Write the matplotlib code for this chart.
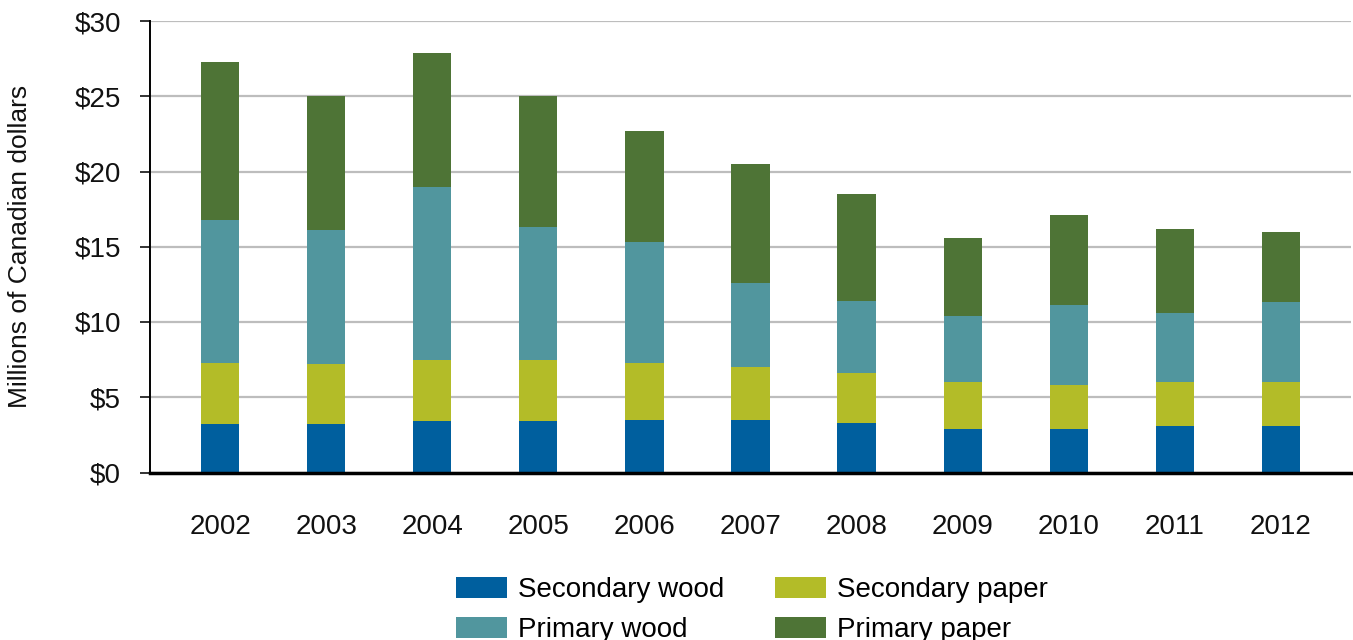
import numpy as np
import matplotlib
matplotlib.use('Agg')
import matplotlib.pyplot as plt

plt.rcParams['font.family'] = ['Liberation Sans', 'DejaVu Sans']

# Annual values, millions of Canadian dollars
years = ['2002', '2003', '2004', '2005', '2006', '2007', '2008', '2009', '2010', '2011', '2012']
secondary_wood = [3.2, 3.2, 3.4, 3.4, 3.5, 3.5, 3.3, 2.9, 2.9, 3.1, 3.1]
secondary_paper = [4.1, 4.0, 4.1, 4.1, 3.8, 3.5, 3.3, 3.1, 2.9, 2.9, 2.9]
primary_wood = [9.5, 8.9, 11.5, 8.8, 8.0, 5.6, 4.8, 4.4, 5.3, 4.6, 5.3]
primary_paper = [10.5, 8.9, 8.9, 8.7, 7.4, 7.9, 7.1, 5.2, 6.0, 5.6, 4.7]
y_ticks = [0, 5, 10, 15, 20, 25, 30]

colors = {
    'Secondary wood': '#005f9e',
    'Secondary paper': '#b3bc28',
    'Primary wood': '#51969e',
    'Primary paper': '#4e7436',
}

fig = plt.figure(figsize=(13.53, 6.4), dpi=100)
ax = fig.add_axes([150 / 1353, 1 - 472.5 / 640, 1201 / 1353, 451.5 / 640])

x = np.arange(len(years))
width = 0.36
series = [
    ('Secondary wood', secondary_wood),
    ('Secondary paper', secondary_paper),
    ('Primary wood', primary_wood),
    ('Primary paper', primary_paper),
]
bottom = np.zeros(len(years))
bars = {}
for name, vals in series:
    vals = np.array(vals)
    bars[name] = ax.bar(x, vals, width, bottom=bottom, color=colors[name], label=name, zorder=3)
    bottom += vals

ax.set_xlim(-0.66, len(years) - 1 + 0.66)
ax.set_ylim(0, 30)
ax.set_yticks(y_ticks)
ax.set_yticklabels(['$%d' % v for v in y_ticks])
ax.set_xticks(x)
ax.set_xticklabels(years)

ax.yaxis.grid(True, color='#bdbdbd', linewidth=1.6, zorder=0)
ax.set_axisbelow(True)
for side in ['top', 'right']:
    ax.spines[side].set_visible(False)
ax.spines['left'].set_linewidth(1.4)
ax.spines['bottom'].set_linewidth(2.5)
ax.spines['bottom'].set_zorder(4)

ax.tick_params(axis='y', length=7, width=1.2, pad=14, labelsize=20, colors='#111111')
ax.tick_params(axis='x', length=0, pad=30, labelsize=20, colors='#111111')

ax.set_ylabel('Millions of Canadian dollars', fontsize=19, color='#111111', va='center')
ax.yaxis.set_label_coords(-0.108, 0.5)

# Two-column legend under the chart
handles = [bars['Secondary wood'], bars['Primary wood'], bars['Secondary paper'], bars['Primary paper']]
labels = ['Secondary wood', 'Primary wood', 'Secondary paper', 'Primary paper']
fig.legend(handles, labels, ncol=2, frameon=False, fontsize=20,
           loc='upper left', bbox_to_anchor=(442 / 1353, 1 - 563 / 640),
           borderpad=0, handlelength=1.85, handleheight=0.8,
           handletextpad=0.4, columnspacing=1.8, labelspacing=0.5)

fig.savefig('out.png', dpi=100)
